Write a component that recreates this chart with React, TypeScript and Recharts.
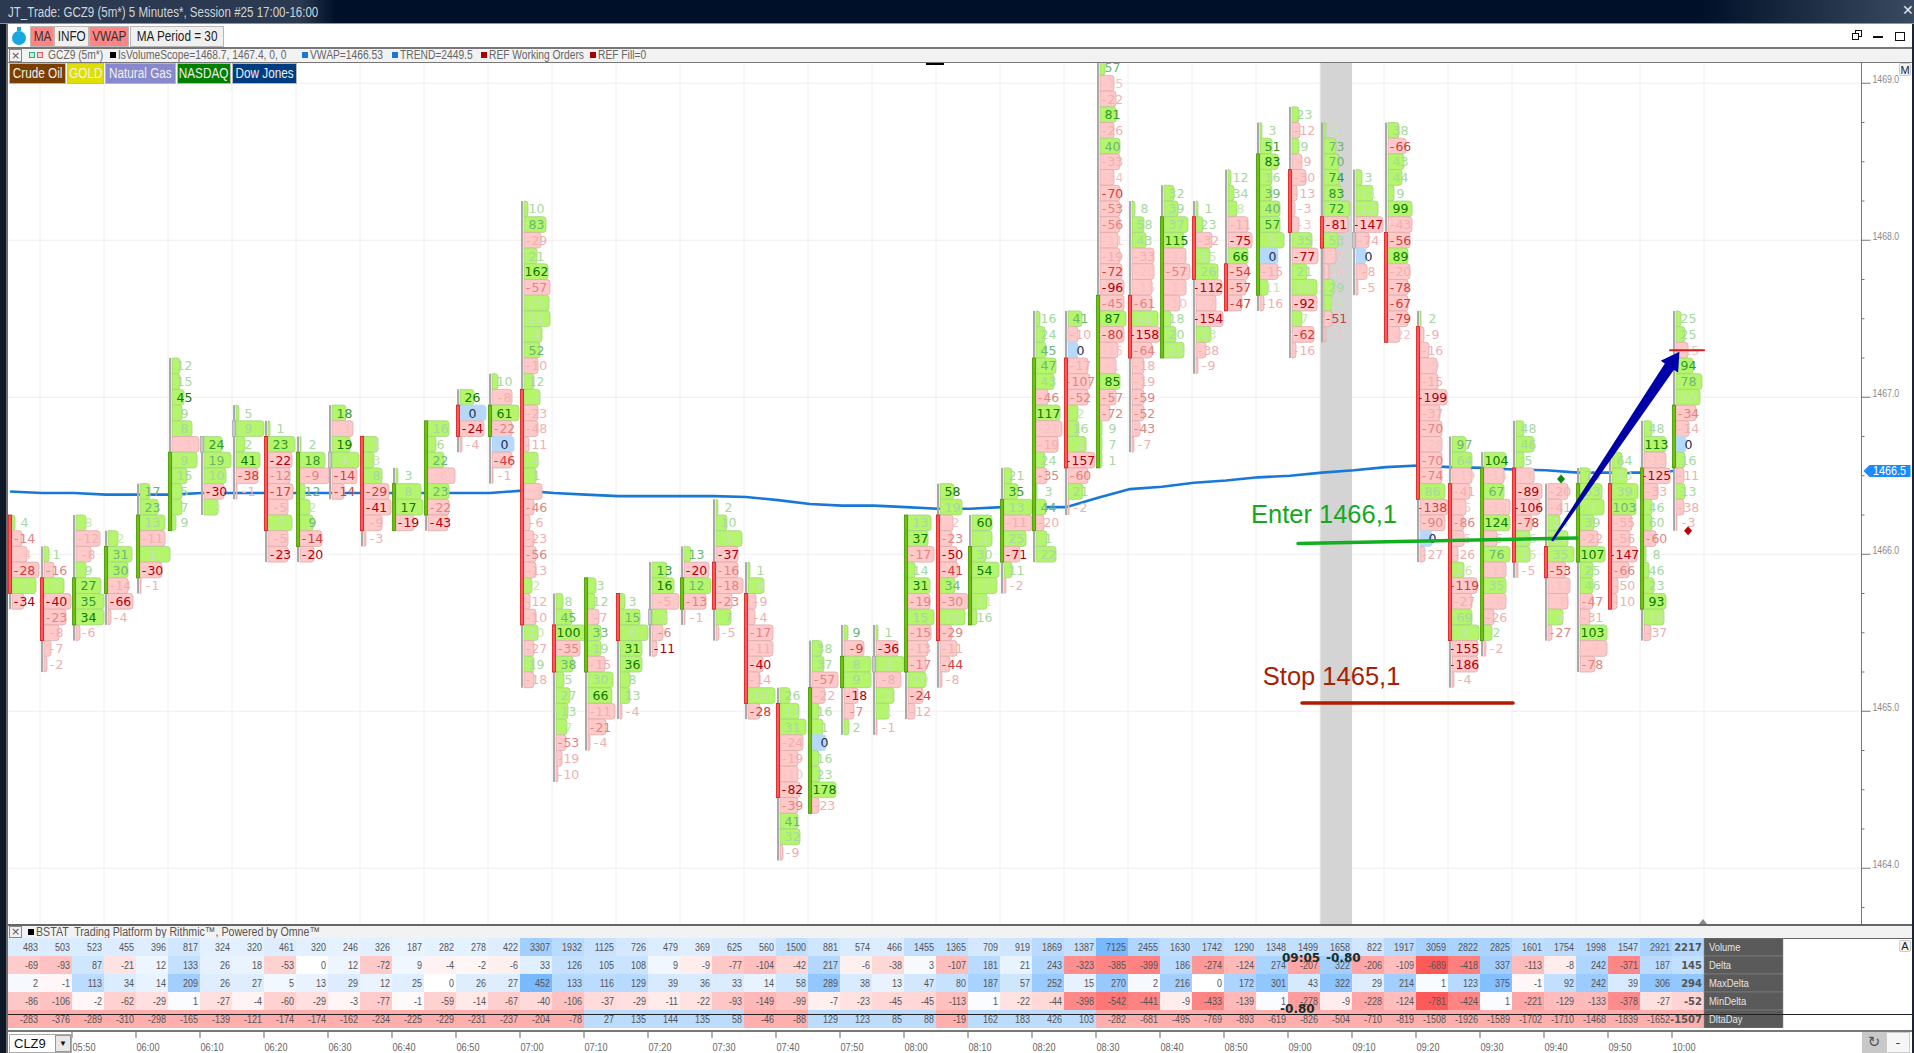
import React from 'react';
import { ComposedChart, Scatter, Line, XAxis, YAxis, CartesianGrid, ReferenceArea } from 'recharts';

// ---------- data ----------
const barTops = [1466.2,1466.0,1466.2,1466.1,1466.4,1467.2,1466.7,1466.9,1466.8,1466.7,1466.9,1466.7,1466.5,1466.8,1467.0,1467.1,1468.2,1465.7,1465.8,1465.7,1465.9,1466.0,1466.3,1465.9,1465.1,1465.4,1465.5,1465.5,1466.2,1466.4,1466.2,1466.5,1467.5,1467.5,1469.1,1468.2,1468.3,1468.2,1468.4,1468.7,1468.8,1468.7,1468.4,1468.7,1467.5,1466.7,1466.6,1466.8,1466.4,1466.5,1466.6,1466.8,1467.5];
const bodyOpen = [1466.2,1465.8,1465.6,1465.8,1465.9,1466.2,1466.7,1466.8,1466.7,1466.1,1466.6,1466.7,1466.2,1466.3,1466.9,1466.8,1467.0,1465.5,1465.3,1465.7,1465.6,1465.7,1465.9,1465.7,1465.0,1464.4,1465.2,1465.3,1465.3,1466.2,1465.6,1466.0,1466.2,1467.2,1466.6,1467.6,1467.3,1468.1,1467.8,1467.7,1468.4,1468.1,1468.0,1468.0,1467.4,1466.4,1465.5,1466.5,1466.0,1466.0,1466.4,1465.7,1466.6];
const bodyClose = [1465.8,1465.5,1465.8,1466.0,1466.2,1466.6,1466.7,1466.8,1466.2,1466.6,1466.6,1466.2,1466.4,1466.8,1466.8,1466.9,1465.6,1465.3,1465.8,1465.5,1465.6,1465.8,1465.7,1465.1,1464.5,1465.1,1465.3,1465.3,1466.2,1465.5,1466.0,1466.3,1467.2,1466.6,1467.6,1467.3,1468.1,1467.8,1467.6,1468.5,1468.1,1468.0,1468.0,1467.4,1466.4,1465.5,1466.5,1466.0,1465.9,1466.4,1465.7,1466.5,1466.9];

const cellDeltas = [
[4,-14,-4,-28,7,-34],
[1,-16,2,-40,-23,-8,-7,-2],
[8,-12,-8,9,27,35,34,-6],
[2,31,30,-14,-66,-4],
[17,23,13,-11,1,-30,-1],
[12,15,45,9,8,-3,9,15,5,7,9],
[24,19,10,-30,3],
[5,9,2,41,-38,-1],
[1,23,-22,-12,-17,-5,7,-5,-23],
[2,18,-9,12,2,9,-14,-20],
[18,-1,19,4,-14,-14],
[1,3,8,-29,-41,-9,-3],
[3,8,17,-19],
[16,6,22,-6,23,-22,-43],
[26,0,-24,-4],
[10,-8,61,-22,0,-46,-1],
[10,83,-29,21,162,-57,25,21,4,52,-10,12,7,-23,-48,-11,4,1,-1,-46,-6,-23,-56,-13,2,-12,-10,10,-27,19,-18],
[8,45,100,-35,38,5,27,13,7,-53,-19,-10],
[3,12,-7,33,19,-15,30,66,-11,-21,-4],
[3,15,6,31,36,8,13,-4],
[13,16,-5,2,-6,-11],
[13,-20,12,-13,-1],
[2,10,3,-37,-16,-18,-23,7,-5],
[1,8,-9,-4,-17,-11,-40,-14,10,-28],
[26,11,31,-24,-19,-10,-82,-39,41,32,-9],
[38,37,-57,-22,16,1,0,16,23,178,-23],
[9,-9,8,9,-18,-7,2],
[1,-36,3,-8,2,1,-1],
[13,37,-17,14,31,-19,15,-15,-13,-17,10,-24,-12],
[58,19,-2,-23,-50,-41,34,-30,20,-29,-11,-44,-8],
[60,3,30,54,7,11,16],
[21,35,13,-11,25,-71,11,-2],
[16,24,45,47,43,-46,117,-21,-19,24,-35,3,44,-20,1,22],
[41,-10,0,-17,-107,-52,2,16,2,-157,-60,21,-2],
[57,-15,-22,81,-26,40,-33,-14,-70,-53,-56,-11,-19,-72,-96,-45,87,-80,-15,-1,85,-57,-72,9,7,1],
[8,58,43,-33,-20,-15,-61,41,-158,-64,-18,-19,-59,-52,-43,-7],
[32,39,37,115,-14,-57,-17,-10,18,20,23],
[1,23,-32,15,26,-112,-7,-154,13,-38,-9],
[12,34,8,-11,-75,66,-54,-57,-47],
[3,51,83,16,39,40,57,5,0,-15,11,-16],
[23,-12,9,-9,-30,-13,-3,-3,35,-77,21,15,-92,7,-62,-16],
[1,73,70,74,83,72,-81,53,-7,-6,29,15,-51,-3],
[3,11,13,-147,-74,0,-8,-5],
[38,-66,43,44,9,99,-43,-56,89,-20,-78,-67,-79,-22],
[2,-9,-16,-9,-15,-199,-37,-70,-28,-70,-74,86,-138,-90,0,-27],
[97,64,-19,-41,-5,-86,-5,-26,26,-119,-27,69,9,-155,-186,-4],
[104,-14,67,-12,124,-5,76,-11,35,-8,-26,2,-2],
[48,46,5,-6,-89,-106,-78,56,16,-5],
[-20,-41,14,54,35,-53,-11,-8,9,-27],
[73,53,4,39,-22,107,25,46,-47,-31,103,-7,-78],
[64,13,39,103,-55,-56,-147,-66,-50,-10],
[48,113,-13,-125,-33,46,60,-60,8,46,23,93,18,-37],
[25,25,-15,94,78,10,-34,-14,0,16,-11,13,-38,-3],
];

// relative traded volume of each cell
const cellVolumes = [
[3,10,15,27,24,12],
[5,10,20,27,22,15,7,3],
[10,24,15,10,25,28,28,4],
[10,24,20,20,25,3],
[10,18,25,25,30,22,1],
[8,8,12,10,20,27,25,15,10,10,4],
[18,27,22,20,14],
[3,28,9,24,22,1],
[2,27,24,22,25,20,24,20,20],
[1,25,29,5,10,13,22,14],
[14,21,18,27,25,12],
[14,10,18,25,27,18,2],
[2,25,27,18],
[21,8,16,27,21,21,20],
[14,26,24,2],
[6,20,27,20,22,20,1],
[4,22,17,13,24,26,25,26,18,16,14,10,16,14,14,5,14,12,18,10,6,10,12,12,8,6,12,14,10,10,10],
[7,16,30,24,17,8,14,12,11,10,6,2],
[8,7,11,13,13,17,25,24,27,18,2],
[5,20,28,22,22,10,10,2],
[15,22,27,15,11,5],
[7,25,27,22,1],
[2,11,26,22,22,27,16,15,3],
[2,16,8,7,25,25,15,12,27,12],
[10,19,26,23,18,18,20,18,18,20,3],
[10,12,26,13,7,11,14,7,8,24,7],
[4,20,27,27,14,10,5],
[2,22,28,25,18,13,1],
[23,20,26,7,22,22,26,23,20,18,18,15,7],
[14,22,13,12,17,18,15,28,25,12,17,10,2],
[20,20,14,27,25,15,5],
[8,14,28,28,22,16,8,2],
[4,9,10,20,18,12,24,26,22,9,11,1,10,8,11,20],
[14,10,10,20,22,20,10,11,18,27,20,15,1],
[5,14,16,16,14,20,20,14,20,20,20,18,20,22,24,24,26,24,18,16,20,16,10,2,2,2],
[3,12,14,22,22,20,20,26,28,20,12,12,12,12,8,2],
[10,14,24,20,22,26,22,16,7,12,20],
[2,7,16,14,22,26,20,27,15,10,2],
[3,6,9,20,24,20,20,18,14],
[2,12,18,12,12,20,20,24,18,18,8,4],
[7,8,7,10,14,5,3,7,20,26,15,25,25,10,22,4],
[2,12,15,15,17,26,24,14,12,5,10,8,8,2],
[6,17,22,27,13,10,11,2],
[11,18,16,14,6,24,24,22,20,22,20,20,20,12],
[1,4,9,17,18,27,20,22,22,22,22,25,28,25,12,5],
[14,20,20,18,14,12,12,6,12,25,20,20,27,26,26,2],
[22,20,20,26,26,13,26,22,22,22,10,8,2],
[8,18,8,18,26,24,16,14,14,2],
[20,14,12,20,26,18,22,20,15,4],
[10,22,24,14,18,25,13,13,13,10,27,27,15],
[10,15,26,24,20,18,25,17,6,5],
[8,22,22,26,14,8,8,12,2,5,10,22,20,7],
[5,9,12,17,26,24,20,13,10,9,8,9,8,1],
];

// imbalance strength of each cell (0 faint .. 4 strong)
const cellStrengths = [
[1,2,0,3,0,4],
[1,2,0,4,2,1,1,1],
[0,1,1,1,3,3,4,1],
[0,2,2,1,4,1],
[2,2,1,1,0,4,1],
[1,1,4,1,1,0,1,1,1,1,1],
[3,2,1,4,0],
[1,1,1,4,3,1],
[1,3,4,2,3,1,0,1,4],
[1,3,2,2,0,2,3,4],
[3,0,4,0,3,3],
[0,0,1,3,4,1,1],
[1,1,4,4],
[1,1,2,0,2,2,4],
[4,4,4,1],
[1,1,4,2,4,3,1],
[1,2,1,1,4,2,0,0,0,2,1,1,0,1,1,1,0,1,0,2,1,1,2,1,0,1,1,0,1,1,1],
[1,2,4,2,2,1,1,1,0,2,1,1],
[1,1,1,2,1,1,1,4,1,2,1],
[1,2,0,4,4,1,1,1],
[3,4,1,0,2,4],
[2,4,2,2,1],
[1,1,0,4,2,2,2,1,1],
[1,0,1,1,2,1,4,1,0,3],
[1,0,1,1,1,0,4,2,2,1,1],
[1,1,2,1,1,1,4,1,1,4,1],
[2,3,1,1,4,2,1],
[1,4,0,1,0,0,1],
[1,4,2,1,4,2,1,2,1,2,0,3,1],
[4,1,0,2,4,3,2,2,0,2,1,3,1],
[4,0,1,4,0,0,1],
[1,3,1,1,1,4,1,1],
[1,1,2,2,1,2,4,0,1,1,2,1,2,1,1,1],
[2,1,4,1,2,2,0,1,0,4,2,1,1],
[2,0,1,3,1,2,1,0,3,2,2,0,1,3,4,2,4,3,0,0,4,2,2,1,1,1],
[1,1,1,1,0,0,2,0,4,2,1,1,2,2,2,1],
[1,1,1,4,0,2,0,0,1,1,0],
[1,1,1,0,1,4,0,4,0,1,1],
[1,1,0,1,4,4,3,3,3],
[1,3,4,1,2,2,3,0,4,1,0,1],
[1,1,1,1,1,1,1,0,1,4,1,0,4,0,3,1],
[0,2,2,3,3,3,4,1,0,0,1,0,3,0],
[1,0,0,4,1,4,1,1],
[1,3,1,1,1,4,1,3,4,1,3,3,3,0],
[1,1,1,0,1,4,1,2,0,2,2,1,3,2,4,1],
[2,1,0,1,0,2,0,1,0,3,1,1,0,4,4,1],
[4,0,2,0,4,0,2,0,1,0,1,1,1],
[1,1,1,0,4,4,3,0,0,1],
[1,1,0,0,1,3,0,0,0,2],
[1,1,0,1,1,4,1,1,2,1,4,0,2],
[1,0,1,2,1,1,4,2,1,1],
[1,4,0,4,1,1,1,2,1,1,1,4,0,1],
[1,1,0,3,2,0,2,1,4,1,1,1,1,1],
];

const vwapValues = [1466.40,1466.39,1466.39,1466.38,1466.38,1466.38,1466.39,1466.39,1466.39,1466.39,1466.39,1466.39,1466.39,1466.39,1466.39,1466.39,1466.405,1466.39,1466.38,1466.37,1466.37,1466.37,1466.37,1466.365,1466.345,1466.32,1466.31,1466.31,1466.30,1466.29,1466.29,1466.30,1466.30,1466.30,1466.36,1466.415,1466.43,1466.455,1466.47,1466.49,1466.50,1466.52,1466.535,1466.555,1466.565,1466.555,1466.55,1466.54,1466.535,1466.52,1466.52,1466.52,1466.53];

const volumeRow = [483,503,523,455,396,817,324,320,461,320,246,326,187,282,278,422,3307,1932,1125,726,479,369,625,560,1500,881,574,466,1455,1365,709,919,1869,1387,7125,2455,1630,1742,1290,1348,1499,1658,822,1917,3059,2822,2825,1601,1754,1998,1547,2921,2217];
const deltaRow = [-69,-93,87,-21,12,133,26,18,-53,0,12,-72,9,-4,-2,-6,33,126,105,108,9,-9,-77,-104,-42,217,-6,-38,3,-107,181,21,243,-323,-385,-399,186,-274,-124,274,-207,322,-206,-109,-689,-418,337,-113,-8,242,-371,187,145];
const maxDeltaRow = [2,-1,113,34,14,209,26,27,5,13,29,12,25,0,26,27,452,133,116,129,39,36,33,14,58,289,38,13,47,80,187,57,252,15,270,2,216,0,172,301,43,322,29,214,1,123,375,-1,92,242,39,306,294];
const minDeltaRow = [-86,-106,-2,-62,-29,1,-27,-4,-60,-29,-3,-77,-1,-59,-14,-67,-40,-106,-37,-29,-11,-22,-93,-149,-99,-7,-23,-45,-45,-113,1,-22,-44,-398,-542,-441,-9,-433,-139,1,-278,-9,-228,-124,-781,-424,1,-221,-129,-133,-378,-27,-52];
const dltaDayRow = [-283,-376,-289,-310,-298,-165,-139,-121,-174,-174,-162,-234,-225,-229,-231,-237,-204,-78,27,135,144,135,58,-46,-88,129,123,85,88,-19,162,183,426,103,-282,-681,-495,-769,-893,-619,-826,-504,-710,-819,-1508,-1926,-1589,-1702,-1710,-1468,-1839,-1652,-1507];
const rowNames = ['Volume','Delta','MaxDelta','MinDelta','DltaDay'];
const tableRows = [volumeRow,deltaRow,maxDeltaRow,minDeltaRow,dltaDayRow];

const timeBars = [2,4,6,8,10,12,14,16,18,20,22,24,26,28,30,32,34,36,38,40,42,44,46,48,50,52];
const timeLabels = ['05:50','06:00','06:10','06:20','06:30','06:40','06:50','07:00','07:10','07:20','07:30','07:40','07:50','08:00','08:10','08:20','08:30','08:40','08:50','09:00','09:10','09:20','09:30','09:40','09:50','10:00'];
const priceTicks = [1463.75,1464,1464.25,1464.5,1464.75,1465,1465.25,1465.5,1465.75,1466,1466.25,1466.5,1466.75,1467,1467.25,1467.5,1467.75,1468,1468.25,1468.5,1468.75,1469];
const gridPrices = [1464,1465,1466,1467,1468,1469];
const gridBars = [0.94,2.94,4.94,6.94,8.94,10.94,12.94,14.94,16.94,18.94,20.94,22.94,24.94,26.94,28.94,30.94,32.94,34.94,36.94,38.94,40.94,42.94,44.94,46.94,48.94,50.94,52.94];
const highlightBar = [40.95,41.94];
const lastPrice = 1466.53;

const enterText = { x: 38.78, y: 1466.2, label: 'Enter 1466,1', color: '#14a820' };
const stopText = { x: 39.15, y: 1465.17, label: 'Stop 1465,1', color: '#a82000' };
const segmentLines = [
  { x: 40.25, y: 1466.068, x2: 48.97, y2: 1466.104, color: '#10b020', w: 3.5 },
  { x: 40.375, y: 1465.053, x2: 46.97, y2: 1465.053, color: '#b01c00', w: 3.5 },
  { x: 51.875, y: 1467.3, x2: 52.94, y2: 1467.3, color: '#d02020', w: 2 },
];
const arrowPoint = [{ x: 48.19, y: 1466.085, x2: 52.17, y2: 1467.29 }];
const diamonds = [
  { x: 48.47, y: 1466.48, color: '#0a8a0a' },
  { x: 52.44, y: 1466.15, color: '#c00000' },
];
const tableNotes = [
  { x: 39.75, y: 0.59, label: '09:05' },
  { x: 41.125, y: 0.59, label: '-0.80' },
  { x: 39.69, y: 3.39, label: '-0.80' },
];

// ---------- flat tables for the library ----------
const cellPoints = cellDeltas.flatMap((deltas, i) =>
  deltas.map((delta, r) => ({
    x: i,
    y: +(barTops[i] - r * 0.1).toFixed(2),
    delta,
    volume: cellVolumes[i][r],
    strength: cellStrengths[i][r],
  })),
);
const candlePoints = barTops.map((top, i) => {
  const low = top - (cellDeltas[i].length - 1) * 0.1;
  return { x: i, y: (top + low) / 2, top, low, open: bodyOpen[i], close: bodyClose[i] };
});
const vwapPoints = vwapValues.map((y, x) => ({ x, y }));
const tablePoints = tableRows.flatMap((values, row) => {
  const max = Math.max(...values.map(Math.abs));
  return values.map((value, x) => ({ x, y: row, value, row, max }));
});
const labelPoints = rowNames.map((name, y) => ({ x: 53, y, name }));

// ---------- geometry ----------
const W = 1914;
const PLOT_LEFT = 8;
const AXIS_W = 52.5;
const X_DOMAIN = [-2 / 32, 1851.5 / 32];
const Y_DOMAIN = [1463.645, 1469.129];
const MAIN_H = 861;
const PX_X = (W - PLOT_LEFT - AXIS_W) / (X_DOMAIN[1] - X_DOMAIN[0]);
const PX_Y = MAIN_H / (Y_DOMAIN[1] - Y_DOMAIN[0]);
const ROW = 0.1 * PX_Y;
const SANS = '"Liberation Sans",sans-serif';
const DEJAVU = '"DejaVu Sans",sans-serif';

const GREEN_TEXT = ['#c8e6b4', '#a6d8a0', '#6cb676', '#2f9a30', '#0a7a00'];
const RED_TEXT = ['#f4c4c4', '#eeb0b0', '#e08484', '#cc4040', '#b00010'];

// ---------- shapes ----------
const Squeezed = ({ x, y, k, anchor, children, ...rest }: any) => (
  <text transform={`translate(${x} ${y}) scale(${k} 1)`} textAnchor={anchor} fontFamily={SANS} {...rest}>
    {children}
  </text>
);

const FootprintCell = (p: any) => {
  const { cx, cy, payload } = p;
  const { delta, volume, strength } = payload;
  const x0 = cx + 2;
  const y0 = cy - ROW / 2;
  const r = Math.min(3, volume);
  const fill = delta === 0 ? '#b6d8fa' : delta > 0 ? '#b4f56c' : '#ffc9c9';
  const stroke = delta === 0 ? '#b6d8fa' : delta > 0 ? '#a2d484' : '#dcacac';
  const col = delta === 0 ? '#1f2f4f' : delta > 0 ? GREEN_TEXT[strength] : RED_TEXT[strength];
  const d = `M${x0} ${y0}H${x0 + volume - r}Q${x0 + volume} ${y0} ${x0 + volume} ${y0 + r}V${y0 + ROW - r}Q${x0 + volume} ${y0 + ROW} ${x0 + volume - r} ${y0 + ROW}H${x0}Z`;
  return (
    <g>
      <path d={d} fill={fill} stroke={stroke} strokeWidth={0.8} />
      <text x={cx + 14.5} y={cy + 4.6} textAnchor="middle" fontFamily={DEJAVU} fontSize={12.5} fill={col}>
        {String(delta).replace('-', '-\u200a')}
      </text>
    </g>
  );
};

const Candle = (p: any) => {
  const { cx, cy, payload } = p;
  const { top, low, open, close, y } = payload;
  const py = (v: number) => cy - (v - y) * PX_Y;
  const hi = Math.max(open, close);
  const lo = Math.min(open, close);
  const up = close > open;
  const flat = close === open;
  const fill = flat ? '#c9c9c9' : up ? '#6cc00e' : '#ff5656';
  const stroke = flat ? '#aaaaaa' : up ? '#4a9400' : '#d81818';
  return (
    <g>
      <rect x={cx - 1} y={py(top + 0.05)} width={2} height={(top - low + 0.1) * PX_Y} fill="#a9a9a9" />
      <rect
        x={cx - 1.6}
        y={py(hi + 0.05)}
        width={3.2}
        height={(hi - lo + 0.1) * PX_Y}
        fill={fill}
        stroke={stroke}
        strokeWidth={0.8}
      />
    </g>
  );
};

const Segment = (p: any) => {
  const { cx, cy, payload } = p;
  return (
    <line
      x1={cx}
      y1={cy}
      x2={cx + (payload.x2 - payload.x) * PX_X}
      y2={cy - (payload.y2 - payload.y) * PX_Y}
      stroke={payload.color}
      strokeWidth={payload.w}
      strokeLinecap="round"
    />
  );
};

const BigText = (p: any) => (
  <text x={p.cx} y={p.cy} fontFamily={SANS} fontSize={25.5} fill={p.payload.color}>
    {p.payload.label}
  </text>
);

const Arrow = (p: any) => {
  const { cx, cy, payload } = p;
  const tx = cx + (payload.x2 - payload.x) * PX_X;
  const ty = cy - (payload.y2 - payload.y) * PX_Y;
  const dx = tx - cx;
  const dy = ty - cy;
  const len = Math.hypot(dx, dy);
  const ux = dx / len;
  const uy = dy / len;
  const nx = -uy;
  const ny = ux;
  const bx = tx - ux * 18;
  const by = ty - uy * 18;
  const pts = [
    [cx + nx * 1.2, cy + ny * 1.2],
    [bx + nx * 5.5, by + ny * 5.5],
    [bx + nx * 10.5, by + ny * 10.5],
    [tx, ty],
    [bx - nx * 10.5, by - ny * 10.5],
    [bx - nx * 5.5, by - ny * 5.5],
    [cx - nx * 1.2, cy - ny * 1.2],
  ];
  return <polygon points={pts.map((q) => q.join(',')).join(' ')} fill="#0000a8" />;
};

const Diamond = (p: any) => (
  <polygon
    points={`${p.cx},${p.cy - 4.5} ${p.cx + 4},${p.cy} ${p.cx},${p.cy + 4.5} ${p.cx - 4},${p.cy}`}
    fill={p.payload.color}
  />
);

const PriceTick = (p: any) => {
  const { y, payload } = p;
  const x = p.x - 8; // the library hands over the tick's label position, past its own tick mark
  const v = payload.value;
  if (v === lastPrice) {
    return (
      <g>
        <polygon
          points={`${x + 2},${y} ${x + 8},${y - 6} ${x + 49},${y - 6} ${x + 49},${y + 6} ${x + 8},${y + 6}`}
          fill="#1a8cff"
        />
        <Squeezed x={x + 28} y={y + 4} k={0.86} anchor="middle" fontSize={12.5} fill="#fff">
          {v.toFixed(1)}
        </Squeezed>
      </g>
    );
  }
  const major = Number.isInteger(v);
  return (
    <g>
      <line x1={x} x2={x + (major ? 9 : 3)} y1={y} y2={y} stroke="#777" strokeWidth={1} />
      {major && (
        <Squeezed x={x + 11} y={y - 0.5} k={0.76} fontSize={11.5} fill="#8a8a8a">
          {v.toFixed(1)}
        </Squeezed>
      )}
    </g>
  );
};

const heat = (value: number, row: number, max: number) => {
  if (row === 4) return value < 0 ? '#ffaeae' : '#bcdcfd';
  if (value === 0) return '#ffffff';
  const t = Math.sqrt(Math.abs(value) / max);
  if (value > 0) return `rgb(${Math.round(255 - 135 * t)},${Math.round(255 - 70 * t)},255)`;
  return `rgb(255,${Math.round(255 - 165 * t)},${Math.round(255 - 165 * t)})`;
};

const TableCell = (p: any) => {
  const { cx, cy, payload } = p;
  const last = payload.x === 52;
  return (
    <g>
      <rect x={cx - 2} y={cy - 9} width={32} height={18} fill={heat(payload.value, payload.row, payload.max)} />
      {last ? (
        <text x={cx + 28} y={cy + 4} textAnchor="end" fontFamily={DEJAVU} fontWeight={700} fontSize={10} fill="#555">
          {payload.value}
        </text>
      ) : (
        <Squeezed x={cx + 28} y={cy + 4} k={0.78} anchor="end" fontSize={11.5} fill="#555">
          {payload.value}
        </Squeezed>
      )}
    </g>
  );
};

const RowLabel = (p: any) => {
  const { cx, cy, payload } = p;
  return (
    <g>
      <rect x={cx - 2} y={cy - 9} width={79} height={18} fill="#5a5a5a" stroke="#8a8a8a" strokeWidth={0.5} />
      <Squeezed x={cx + 3} y={cy + 4} k={0.82} fontSize={11.5} fill="#e4e4e4">
        {payload.name}
      </Squeezed>
    </g>
  );
};

const NoteText = (p: any) => (
  <text x={p.cx} y={p.cy + 4.5} fontFamily={DEJAVU} fontWeight={700} fontSize={12} fill="#10302c">
    {p.payload.label}
  </text>
);

const TimeTick = (p: any) => {
  const { x, y, payload } = p;
  const label = timeLabels[timeBars.indexOf(payload.value)];
  return (
    <g>
      <line x1={x - 2} x2={x - 2} y1={y - 4} y2={y + 2} stroke="#666" />
      <Squeezed x={x - 1.5} y={y + 15} k={0.8} fontSize={11.5} fill="#666">
        {label}
      </Squeezed>
    </g>
  );
};

// ---------- page furniture ----------
const abs = (l: number, t: number, w: number, h: number, extra: any = {}): any => ({
  position: 'absolute',
  left: l,
  top: t,
  width: w,
  height: h,
  boxSizing: 'border-box',
  ...extra,
});
const narrowSpan = (k: number, origin = 'left'): any => ({
  display: 'inline-block',
  transform: `scaleX(${k})`,
  transformOrigin: origin,
  whiteSpace: 'pre',
});
const label = (l: number, t: number, w: number, h: number, bg: string, fg: string, text: string) => (
  <div
    style={abs(l, t, w, h, {
      background: bg,
      color: fg,
      fontFamily: SANS,
      fontSize: 14,
      lineHeight: `${h - 2}px`,
      display: 'flex',
      justifyContent: 'center',
      whiteSpace: 'nowrap',
      overflow: 'hidden',
      border: '1px solid #b8b8b8',
    })}
  >
    <span style={narrowSpan(0.84, 'center')}>{text}</span>
  </div>
);
const legendText = (l: number, text: string) => (
  <span
    style={{
      position: 'absolute',
      left: l,
      top: 48,
      fontFamily: SANS,
      fontSize: 12.5,
      lineHeight: '14px',
      color: '#666',
      ...narrowSpan(0.82),
    }}
  >
    {text}
  </span>
);
const sq = (l: number, t: number, c: string, s = 6) => <div style={abs(l, t, s, s, { background: c })} />;

export default function App() {
  return (
    <div style={abs(0, 0, W, 1053, { overflow: 'hidden', background: '#fff' })}>
      {/* title bar */}
      <div
        style={abs(0, 0, W, 24, {
          background: 'linear-gradient(90deg,#2b3a50 0,#2b3a50 300px,#001028 335px,#001028 1700px,#3a4a60 1914px)',
          borderBottom: '1px solid #8a95a5',
        })}
      />
      <div
        style={{
          position: 'absolute',
          left: 8,
          top: 4,
          fontFamily: SANS,
          fontSize: 14,
          color: '#d0d4d8',
          ...narrowSpan(0.825),
        }}
      >
        JT_Trade: GCZ9 (5m*) 5 Minutes*, Session #25 17:00-16:00
      </div>
      <div
        style={{
          position: 'absolute',
          left: 1902,
          top: 2,
          fontFamily: DEJAVU,
          fontWeight: 700,
          fontSize: 14,
          color: '#e8e8e8',
        }}
      >
        ✕
      </div>

      {/* frame */}
      <div style={abs(0, 24, 7, 1029, { background: '#0e1826' })} />
      <div style={abs(6, 24, 2, 1029, { background: '#6a6a6a' })} />
      <div style={abs(1912, 24, 2, 1029, { background: '#1a2433' })} />

      {/* tool bar */}
      <div style={abs(12, 31, 14, 14, { background: '#18a8e0', borderRadius: 7 })} />
      <div style={abs(17, 27, 4, 4, { background: '#18a8e0' })} />
      {label(30, 26, 24, 21, '#ff8484', '#333', 'MA')}
      {label(54, 26, 35, 21, '#f0f0f0', '#222', 'INFO')}
      {label(89, 26, 40, 21, '#ff8484', '#333', 'VWAP')}
      {label(130, 26, 94, 21, '#f0f0f0', '#222', 'MA Period = 30')}
      <div style={abs(1855, 30, 7, 7, { border: '1.5px solid #111' })} />
      <div style={abs(1852, 33, 7, 7, { border: '1.5px solid #111', background: '#fff' })} />
      <div style={abs(1873, 36, 10, 1.5, { background: '#111' })} />
      <div style={abs(1895, 32, 10, 9, { border: '1.5px solid #111' })} />

      {/* legend strip */}
      <div style={abs(8, 47, 1904, 16, { background: '#f2f2f2', borderTop: '2px solid #777', borderBottom: '1px solid #777' })} />
      <div style={abs(9, 49, 13, 13, { border: '1px solid #888', color: '#555', fontSize: 11, lineHeight: '11px', textAlign: 'center', fontFamily: DEJAVU })}>×</div>
      <div style={abs(29, 52, 6, 6, { border: '1px solid #3a9', background: '#bff5c0' })} />
      <div style={abs(37, 52, 6, 6, { border: '1px solid #c66', background: '#fcc' })} />
      {legendText(48, 'GCZ9 (5m*)')}
      {sq(110, 52, '#000')}
      {legendText(118, 'IsVolumeScope=1468.7, 1467.4, 0, 0')}
      {sq(302, 52, '#1878d8')}
      {legendText(310, 'VWAP=1466.53')}
      {sq(392, 52, '#1878d8')}
      {legendText(400, 'TREND=2449.5')}
      {sq(481, 52, '#a80000')}
      {legendText(489, 'REF Working Orders')}
      {sq(590, 52, '#a80000')}
      {legendText(598, 'REF Fill=0')}

      {/* main chart */}
      <div style={abs(0, 63, W, MAIN_H)}>
        <ComposedChart width={W} height={MAIN_H} margin={{ top: 0, right: 0, bottom: 0, left: PLOT_LEFT }}>
          <CartesianGrid stroke="#efefef" strokeWidth={1} horizontalValues={gridPrices} verticalValues={gridBars} />
          <XAxis type="number" dataKey="x" domain={X_DOMAIN} allowDataOverflow hide />
          <YAxis
            type="number"
            dataKey="y"
            orientation="right"
            width={AXIS_W}
            domain={Y_DOMAIN}
            allowDataOverflow
            ticks={[...priceTicks, lastPrice]}
            interval={0}
            tick={PriceTick}
            tickLine={false}
            axisLine={{ stroke: '#777' }}
          />
          <ReferenceArea x1={highlightBar[0]} x2={highlightBar[1]} fill="#d4d4d4" fillOpacity={1} stroke="none" />
          <Line data={vwapPoints} dataKey="y" stroke="#1878d8" strokeWidth={2.6} dot={false} isAnimationActive={false} type="linear" />
          <Scatter data={cellPoints} shape={FootprintCell} isAnimationActive={false} />
          <Scatter data={candlePoints} shape={Candle} isAnimationActive={false} />
          <Scatter data={diamonds} shape={Diamond} isAnimationActive={false} />
          <Scatter data={segmentLines} shape={Segment} isAnimationActive={false} />
          <Scatter data={arrowPoint} shape={Arrow} isAnimationActive={false} />
          <Scatter data={[enterText, stopText]} shape={BigText} isAnimationActive={false} />
        </ComposedChart>
      </div>
      <div style={abs(926, 63, 18, 2, { background: '#000' })} />
      <div
        style={{
          position: 'absolute',
          left: 1699,
          top: 919,
          width: 0,
          height: 0,
          borderLeft: '4px solid transparent',
          borderRight: '4px solid transparent',
          borderBottom: '5px solid #888',
        }}
      />
      <div style={abs(1899, 63, 12, 13, { border: '1px solid #ccc', background: '#f4f4f4', borderRadius: 2, fontFamily: SANS, fontSize: 11, lineHeight: '12px', textAlign: 'center', color: '#222' })}>M</div>

      {/* buttons over the chart */}
      {label(9, 63, 57, 21, '#7a3f00', '#f0f0f0', 'Crude Oil')}
      {label(67, 63, 37, 21, '#e0e000', '#f0f0f0', 'GOLD')}
      {label(105, 63, 71, 21, '#8888cc', '#f0f0f0', 'Natural Gas')}
      {label(177, 63, 54, 21, '#008000', '#f0f0f0', 'NASDAQ')}
      {label(232, 63, 65, 21, '#003c80', '#f0f0f0', 'Dow Jones')}

      {/* stat header */}
      <div style={abs(8, 924, 1904, 15, { background: '#f2f2f2', borderTop: '2px solid #666', borderBottom: '1px solid #666' })} />
      <div style={abs(9, 926, 13, 12, { border: '1px solid #888', color: '#555', fontSize: 11, lineHeight: '10px', textAlign: 'center', fontFamily: DEJAVU })}>×</div>
      {sq(28, 929, '#000')}
      <span style={{ position: 'absolute', left: 36, top: 925, fontFamily: SANS, fontSize: 12.5, lineHeight: '14px', color: '#555', ...narrowSpan(0.85) }}>
        {'BSTAT  Trading Platform by Rithmic™, Powered by Omne™'}
      </span>

      {/* stat table and time axis */}
      <div style={abs(0, 938, W, 115)}>
        <ComposedChart width={W} height={115} margin={{ top: 0, right: AXIS_W, bottom: 0, left: PLOT_LEFT }}>
          <XAxis
            type="number"
            dataKey="x"
            height={25}
            domain={X_DOMAIN}
            allowDataOverflow
            ticks={timeBars}
            interval={0}
            tick={TimeTick}
            tickLine={false}
            axisLine={false}
          />
          <YAxis type="number" dataKey="y" hide reversed domain={[-0.5, 4.5]} allowDataOverflow />
          <Scatter data={tablePoints} shape={TableCell} isAnimationActive={false} />
          <Scatter data={labelPoints} shape={RowLabel} isAnimationActive={false} />
          <Scatter data={tableNotes} shape={NoteText} isAnimationActive={false} />
        </ComposedChart>
      </div>
      <div style={abs(8, 1014, 1904, 1, { background: '#222' })} />
      <div style={abs(8, 1030, 1904, 2, { background: '#777' })} />
      <div style={abs(1899, 940, 12, 12, { border: '1px solid #ccc', background: '#f4f4f4', borderRadius: 2, fontFamily: SANS, fontSize: 11, lineHeight: '11px', textAlign: 'center', color: '#222' })}>A</div>

      {/* symbol box and corner buttons */}
      <div style={abs(9, 1034, 63, 19, { background: '#fff', border: '1px solid #aaa', fontFamily: SANS, fontSize: 13, lineHeight: '17px', paddingLeft: 4, color: '#111' })}>CLZ9</div>
      <div style={abs(55, 1035, 16, 17, { background: '#e8e8e8', border: '1px solid #999', color: '#111', fontSize: 8, lineHeight: '15px', textAlign: 'center' })}>▼</div>
      <div style={abs(1862, 1032, 24, 21, { background: '#c8c8c8', color: '#555', fontFamily: DEJAVU, fontSize: 15, lineHeight: '21px', textAlign: 'center' })}>↻</div>
      <div style={abs(1886, 1032, 24, 21, { background: '#f6f6f6', border: '1px solid #ccc', color: '#333', fontSize: 13, lineHeight: '19px', textAlign: 'center' })}>-</div>
    </div>
  );
}
